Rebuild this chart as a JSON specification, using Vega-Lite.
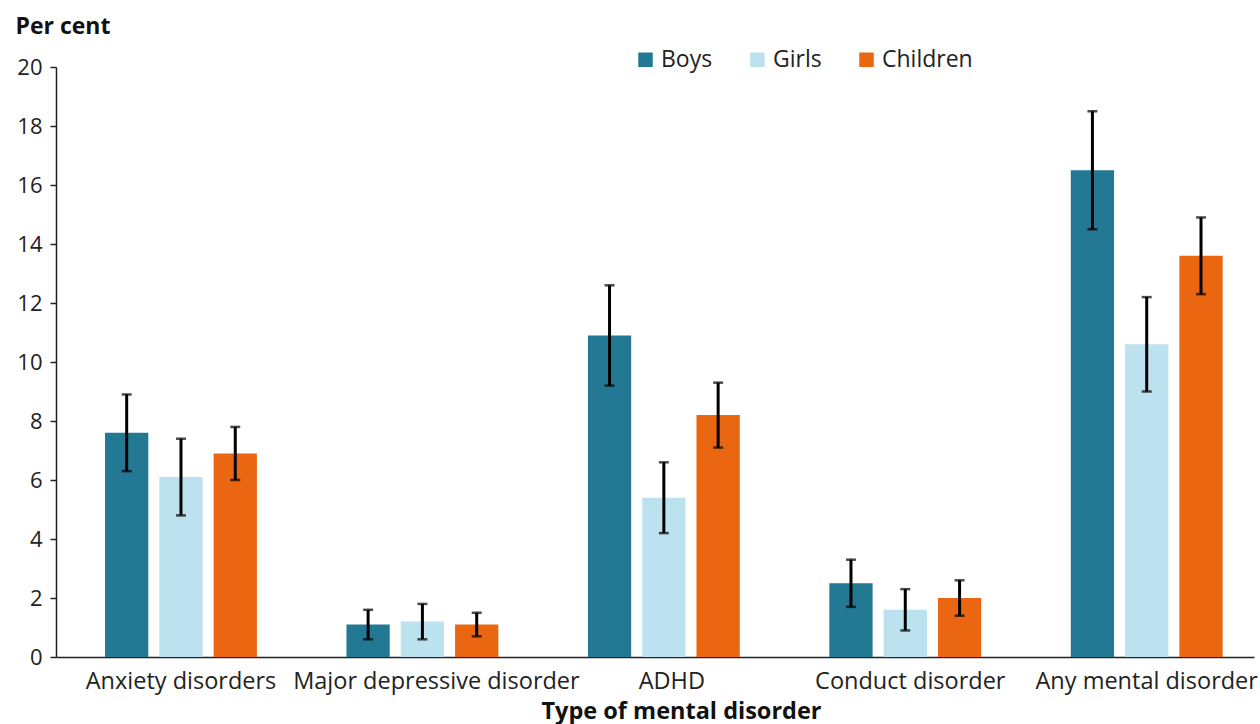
{
  "$schema": "https://vega.github.io/schema/vega-lite/v6.json",
  "width": 1198,
  "height": 590,
  "autosize": {"type": "none"},
  "padding": {"left": 56, "top": 67, "right": 6, "bottom": 67},
  "config": {
    "font": "Open Sans",
    "view": {"stroke": null},
    "axis": {"labelFont": "Open Sans", "titleFont": "Open Sans", "labelColor": "#222222", "titleColor": "#111111", "grid": false}
  },
  "data": {
    "values": [
      {"disorder": "Anxiety disorders", "group": "Boys", "value": 7.6, "lo": 6.3, "hi": 8.9},
      {"disorder": "Anxiety disorders", "group": "Girls", "value": 6.1, "lo": 4.8, "hi": 7.4},
      {"disorder": "Anxiety disorders", "group": "Children", "value": 6.9, "lo": 6.0, "hi": 7.8},
      {"disorder": "Major depressive disorder", "group": "Boys", "value": 1.1, "lo": 0.6, "hi": 1.6},
      {"disorder": "Major depressive disorder", "group": "Girls", "value": 1.2, "lo": 0.6, "hi": 1.8},
      {"disorder": "Major depressive disorder", "group": "Children", "value": 1.1, "lo": 0.7, "hi": 1.5},
      {"disorder": "ADHD", "group": "Boys", "value": 10.9, "lo": 9.2, "hi": 12.6},
      {"disorder": "ADHD", "group": "Girls", "value": 5.4, "lo": 4.2, "hi": 6.6},
      {"disorder": "ADHD", "group": "Children", "value": 8.2, "lo": 7.1, "hi": 9.3},
      {"disorder": "Conduct disorder", "group": "Boys", "value": 2.5, "lo": 1.7, "hi": 3.3},
      {"disorder": "Conduct disorder", "group": "Girls", "value": 1.6, "lo": 0.9, "hi": 2.3},
      {"disorder": "Conduct disorder", "group": "Children", "value": 2.0, "lo": 1.4, "hi": 2.6},
      {"disorder": "Any mental disorder", "group": "Boys", "value": 16.5, "lo": 14.5, "hi": 18.5},
      {"disorder": "Any mental disorder", "group": "Girls", "value": 10.6, "lo": 9.0, "hi": 12.2},
      {"disorder": "Any mental disorder", "group": "Children", "value": 13.6, "lo": 12.3, "hi": 14.9}
    ]
  },
  "encoding": {
    "x": {
      "field": "disorder", "type": "nominal", "sort": null,
      "scale": {"paddingInner": 0.371, "paddingOuter": 0.1665, "align": 0.61},
      "axis": {
        "title": "Type of mental disorder", "labelAngle": 0, "ticks": false,
        "domainColor": "#222222", "domainWidth": 1.5,
        "labelFontSize": 23.5, "labelPadding": 12, "labelLimit": 0, "labelOverlap": false,
        "titleFontSize": 23.5, "titleFontWeight": "bold", "titlePadding": 7, "titleX": 625,
        "labelOffset": {
          "condition": [
            {"test": "datum.value === 'Major depressive disorder'", "value": 14},
            {"test": "datum.value === 'ADHD'", "value": 8},
            {"test": "datum.value === 'Conduct disorder'", "value": 5}
          ],
          "value": 0
        }
      }
    },
    "xOffset": {"field": "group", "type": "nominal", "sort": ["Boys", "Girls", "Children"], "scale": {"paddingInner": 0.203, "paddingOuter": 0}}
  },
  "layer": [
    {
      "mark": {"type": "bar"},
      "encoding": {
        "y": {
          "field": "value", "type": "quantitative",
          "scale": {"domain": [0, 20]},
          "axis": {
            "values": [0, 2, 4, 6, 8, 10, 12, 14, 16, 18, 20],
            "title": "Per cent", "titleAngle": 0, "titleAlign": "left", "titleBaseline": "middle",
            "titleX": -41, "titleY": -41, "titleFontSize": 23, "titleFontWeight": "bold",
            "labelFontSize": 22, "labelPadding": 8,
            "tickSize": 6, "tickColor": "#222222", "domainColor": "#222222", "domainWidth": 1.5, "tickWidth": 1.5
          }
        },
        "color": {
          "field": "group", "type": "nominal", "sort": ["Boys", "Girls", "Children"],
          "scale": {"domain": ["Boys", "Girls", "Children"], "range": ["#237893", "#bde2ef", "#eb6611"]},
          "legend": {
            "title": null, "orient": "none", "direction": "horizontal",
            "legendX": 578, "legendY": -19,
            "symbolType": "square", "symbolSize": 210, "symbolStrokeWidth": 0,
            "labelFontSize": 23, "labelColor": "#222222", "columnPadding": 33, "labelOffset": 4
          }
        }
      }
    },
    {
      "mark": {"type": "rule", "color": "#000000", "strokeWidth": 3},
      "encoding": {
        "y": {"field": "lo", "type": "quantitative"},
        "y2": {"field": "hi"}
      }
    },
    {
      "mark": {"type": "tick", "color": "#000000", "thickness": 2.5, "size": 10},
      "encoding": {"y": {"field": "lo", "type": "quantitative"}}
    },
    {
      "mark": {"type": "tick", "color": "#000000", "thickness": 2.5, "size": 10},
      "encoding": {"y": {"field": "hi", "type": "quantitative"}}
    }
  ]
}
